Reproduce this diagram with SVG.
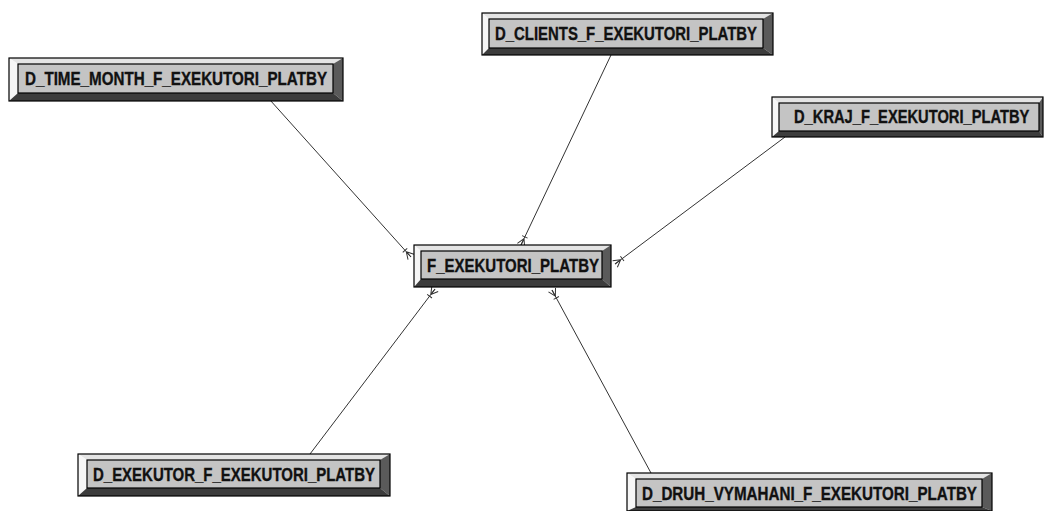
<svg xmlns="http://www.w3.org/2000/svg" width="1044" height="511" viewBox="0 0 1044 511">
<defs>
<style>
.bg{fill:#ffffff}
.top{fill:#e4e4e4}
.left{fill:#f6f6f6}
.right{fill:#5a5a5a}
.bot{fill:#3c3c3c}
.face{fill:#c4c4c4;stroke:#000;stroke-width:1.2}
.frame{fill:none;stroke:#000;stroke-width:1.2}
.lbl{font-family:"Liberation Sans",Arial,sans-serif;font-weight:bold;font-size:18px;fill:#111;stroke:#111;stroke-width:0.35}
.conn{stroke:#333;stroke-width:1;fill:none}
</style>
<marker id="crow" viewBox="-10 -6 12 12" markerWidth="12" markerHeight="12" refX="0" refY="0" orient="auto" markerUnits="userSpaceOnUse">
<path d="M-7,0 L0,-4 M-7,0 L0,0 M-7,0 L0,4 M-9,-3 L-9,3" stroke="#333" stroke-width="1" fill="none"/>
</marker>
</defs>
<rect class="bg" x="0" y="0" width="1044" height="511"/>

<g id="connectors">
<line class="conn" x1="270" y1="100" x2="411" y2="257" marker-end="url(#crow)"/>
<line class="conn" x1="611" y1="55" x2="521" y2="245" stroke-width="1.3" marker-end="url(#crow)"/>
<line class="conn" x1="785" y1="137" x2="615" y2="264" marker-end="url(#crow)"/>
<line class="conn" x1="310" y1="454" x2="435" y2="289" marker-end="url(#crow)"/>
<line class="conn" x1="651" y1="473" x2="552" y2="290" marker-end="url(#crow)"/>
</g>

<g id="D_TIME_MONTH_F_EXEKUTORI_PLATBY">
<polygon class="top" points="9,58 343,58 333,64 18,64"/>
<polygon class="left" points="9,58 18,64 18,93 9,101"/>
<polygon class="right" points="343,58 343,101 333,93 333,64"/>
<polygon class="bot" points="9,101 343,101 333,93 18,93"/>
<rect class="face" x="18" y="64" width="315" height="29"/>
<rect class="frame" x="9" y="58" width="334" height="43"/>
<text class="lbl" x="25" y="85" textLength="302" lengthAdjust="spacingAndGlyphs">D_TIME_MONTH_F_EXEKUTORI_PLATBY</text>
</g>

<g id="D_CLIENTS_F_EXEKUTORI_PLATBY">
<polygon class="top" points="482,13 773,13 763,19 489,19"/>
<polygon class="left" points="482,13 489,19 489,48 482,55"/>
<polygon class="right" points="773,13 773,55 763,48 763,19"/>
<polygon class="bot" points="482,55 773,55 763,48 489,48"/>
<rect class="face" x="489" y="19" width="274" height="29"/>
<rect class="frame" x="482" y="13" width="291" height="42"/>
<text class="lbl" x="495" y="40" textLength="262" lengthAdjust="spacingAndGlyphs">D_CLIENTS_F_EXEKUTORI_PLATBY</text>
</g>

<g id="D_KRAJ_F_EXEKUTORI_PLATBY">
<polygon class="top" points="772,97 1043,97 1039,103 779,103"/>
<polygon class="left" points="772,97 779,103 779,131 772,137"/>
<polygon class="right" points="1043,97 1043,137 1039,131 1039,103"/>
<polygon class="bot" points="772,137 1043,137 1039,131 779,131"/>
<rect class="face" x="779" y="103" width="260" height="28"/>
<rect class="frame" x="772" y="97" width="271" height="40"/>
<text class="lbl" transform="translate(794,123) scale(0.817,1)" x="0" y="0">D_KRAJ_F_EXEKUTORI_PLATBY</text>
</g>

<g id="F_EXEKUTORI_PLATBY">
<polygon class="top" points="414,245 611,245 602,251 421,251"/>
<polygon class="left" points="414,245 421,251 421,279 414,287"/>
<polygon class="right" points="611,245 611,287 602,279 602,251"/>
<polygon class="bot" points="414,287 611,287 602,279 421,279"/>
<rect class="face" x="421" y="251" width="181" height="28"/>
<rect class="frame" x="414" y="245" width="197" height="42"/>
<text class="lbl" x="427" y="272" textLength="172" lengthAdjust="spacingAndGlyphs">F_EXEKUTORI_PLATBY</text>
</g>

<g id="D_EXEKUTOR_F_EXEKUTORI_PLATBY">
<polygon class="top" points="78,454 390,454 380,460 87,460"/>
<polygon class="left" points="78,454 87,460 87,488 78,496"/>
<polygon class="right" points="390,454 390,496 380,488 380,460"/>
<polygon class="bot" points="78,496 390,496 380,488 87,488"/>
<rect class="face" x="87" y="460" width="293" height="28"/>
<rect class="frame" x="78" y="454" width="312" height="42"/>
<text class="lbl" x="93" y="481" textLength="282" lengthAdjust="spacingAndGlyphs">D_EXEKUTOR_F_EXEKUTORI_PLATBY</text>
</g>

<g id="D_DRUH_VYMAHANI_F_EXEKUTORI_PLATBY">
<polygon class="top" points="627,473 992,473 982,479 636,479"/>
<polygon class="left" points="627,473 636,479 636,507 627,511"/>
<polygon class="right" points="992,473 992,511 982,507 982,479"/>
<polygon class="bot" points="627,511 992,511 982,507 636,507"/>
<rect class="face" x="636" y="479" width="346" height="28"/>
<rect class="frame" x="627" y="473" width="365" height="38"/>
<text class="lbl" x="642" y="500" textLength="335" lengthAdjust="spacingAndGlyphs">D_DRUH_VYMAHANI_F_EXEKUTORI_PLATBY</text>
</g>
</svg>
